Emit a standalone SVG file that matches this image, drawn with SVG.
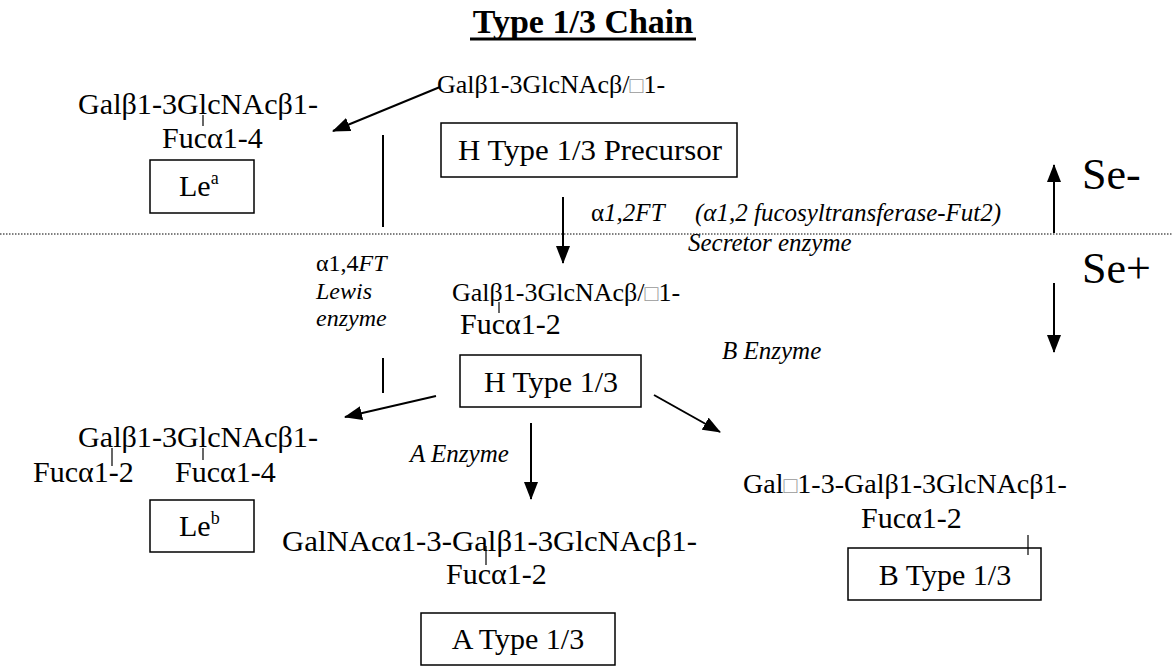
<svg xmlns="http://www.w3.org/2000/svg" width="1172" height="667" viewBox="0 0 1172 667">
  <style>
    text { font-family: "Liberation Serif", "Times New Roman", serif; fill: #000; }
    .t { font-size: 30px; }
    .t2 { font-size: 26px; }
    .t3 { font-size: 28px; }
    .it { font-size: 25px; font-style: italic; }
    .lw { font-size: 24px; font-style: italic; }
    .up { font-style: normal; }
    .se { font-size: 44px; }
    .sup { font-size: 18px; }
    .miss { fill: #999; font-size: 23px; }
    .box { fill: none; stroke: #000; stroke-width: 1.5; }
    .tick { stroke: #000; stroke-width: 1.2; }
    .conn { stroke: #000; stroke-width: 2; fill: none; }
    .arrow { marker-end: url(#head); }
  </style>
  <defs>
    <marker id="head" viewBox="0 0 18 14" refX="17" refY="7" markerWidth="9" markerHeight="7" orient="auto" markerUnits="strokeWidth">
      <path d="M0,0 L18,7 L0,14 Z" fill="#000"/>
    </marker>
  </defs>

  <rect width="1172" height="667" fill="#fff"/>

  <!-- heading -->
  <g id="title">
    <text x="583" y="33" text-anchor="middle" font-size="34" font-weight="bold">Type 1/3 Chain</text>
    <line x1="470" y1="39" x2="696" y2="39" stroke="#000" stroke-width="3"/>
  </g>

  <!-- secretor boundary -->
  <line x1="0" y1="234" x2="1172" y2="234" stroke="#000" stroke-width="1" stroke-dasharray="1.5,1.5"/>

  <g id="precursor">
    <text class="t2" x="437" y="93">Galβ1-3GlcNAcβ/<tspan class="miss">□</tspan>1-</text>
    <rect class="box" x="441" y="123" width="296" height="54"/>
    <text class="t" x="590" y="160" text-anchor="middle" textLength="264" lengthAdjust="spacingAndGlyphs">H Type 1/3 Precursor</text>
  </g>

  <g id="lea">
    <text class="t" x="78" y="114" textLength="240" lengthAdjust="spacingAndGlyphs">Galβ1-3GlcNAcβ1-</text>
    <line class="tick" x1="203" y1="115" x2="203" y2="126"/>
    <text class="t" x="162" y="148">Fucα1-4</text>
    <rect class="box" x="150" y="160" width="104" height="53"/>
    <text class="t" x="179" y="196">Le<tspan class="sup" dy="-12">a</tspan></text>
  </g>

  <g id="htype">
    <text class="t2" x="452" y="301">Galβ1-3GlcNAcβ/<tspan class="miss">□</tspan>1-</text>
    <line class="tick" x1="499" y1="302" x2="499" y2="313"/>
    <text class="t" x="460" y="334">Fucα1-2</text>
    <rect class="box" x="460" y="355" width="181" height="52"/>
    <text class="t" x="551" y="392" text-anchor="middle">H Type 1/3</text>
  </g>

  <g id="leb">
    <text class="t" x="78" y="447" textLength="240" lengthAdjust="spacingAndGlyphs">Galβ1-3GlcNAcβ1-</text>
    <line class="tick" x1="112" y1="448" x2="112" y2="466"/>
    <line class="tick" x1="203" y1="448" x2="203" y2="460"/>
    <text class="t" x="33" y="482">Fucα1-2</text>
    <text class="t" x="175" y="482">Fucα1-4</text>
    <rect class="box" x="150" y="500" width="104" height="52"/>
    <text class="t" x="179" y="536">Le<tspan class="sup" dy="-12">b</tspan></text>
  </g>

  <g id="atype">
    <text class="t" x="282" y="551" textLength="415" lengthAdjust="spacingAndGlyphs">GalNAcα1-3-Galβ1-3GlcNAcβ1-</text>
    <line class="tick" x1="486" y1="546" x2="486" y2="565"/>
    <text class="t" x="446" y="584">Fucα1-2</text>
    <rect class="box" x="421" y="613" width="194" height="52"/>
    <text class="t" x="518" y="649" text-anchor="middle">A Type 1/3</text>
  </g>

  <g id="btype">
    <text class="t3" x="743" y="493">Gal<tspan class="miss">□</tspan>1-3-Galβ1-3GlcNAcβ1-</text>
    <text class="t" x="861" y="528">Fucα1-2</text>
    <rect class="box" x="848" y="548" width="193" height="52"/>
    <line class="tick" x1="1028" y1="535" x2="1028" y2="555"/>
    <text class="t" x="945" y="585" text-anchor="middle">B Type 1/3</text>
  </g>

  <!-- enzyme labels -->
  <g id="labels">
    <text class="it" x="591" y="221"><tspan class="up">α</tspan>1,2FT</text>
    <text class="it" x="695" y="221">(α1,2 fucosyltransferase-Fut2)</text>
    <text class="it" x="688" y="251">Secretor enzyme</text>
    <text class="lw" x="316" y="271"><tspan class="up">α1,4</tspan>FT</text>
    <text class="lw" x="316" y="299">Lewis</text>
    <text class="lw" x="316" y="326">enzyme</text>
    <text class="it" x="722" y="359">B Enzyme</text>
    <text class="it" x="410" y="462">A Enzyme</text>
  </g>

  <g id="se">
    <text class="se" x="1082" y="189">Se-</text>
    <text class="se" x="1082" y="283">Se+</text>
  </g>

  <g id="connectors">
    <line class="conn arrow" x1="440" y1="87" x2="333" y2="131"/>
    <line class="conn" x1="383" y1="135" x2="383" y2="227"/>
    <line class="conn" x1="383" y1="358" x2="383" y2="393"/>
    <line class="conn arrow" x1="563" y1="197" x2="563" y2="263"/>
    <line class="conn arrow" x1="1054" y1="233" x2="1054" y2="165"/>
    <line class="conn arrow" x1="1054" y1="283" x2="1054" y2="352"/>
    <line class="conn arrow" x1="436" y1="396" x2="345" y2="417"/>
    <line class="conn arrow" x1="654" y1="395" x2="720" y2="432"/>
    <line class="conn arrow" x1="531" y1="423" x2="531" y2="499"/>
  </g>
</svg>
